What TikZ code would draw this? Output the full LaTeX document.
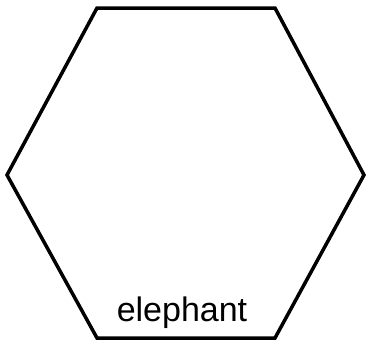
\documentclass[tikz,border=0pt]{standalone}
\usepackage{fontspec}
\setmainfont{Liberation Sans}
\begin{document}
\begin{tikzpicture}[x=1pt,y=-1pt,
  hexline/.style={draw=black,line width=3.5pt,line join=miter},
  lbl/.style={inner sep=0pt,font=\fontsize{34}{37}\selectfont,anchor=base}]
\useasboundingbox (0,0) rectangle (368,343);
\coordinate (v1) at (97,8);
\coordinate (v2) at (275,8);
\coordinate (v3) at (364,175);
\coordinate (v4) at (275,338);
\coordinate (v5) at (97,338);
\coordinate (v6) at (7,175);
\draw[hexline] (v1) -- (v2) -- (v3) -- (v4) -- (v5) -- (v6) -- cycle;
\node[lbl] (t) at (182,321) {elephant};
\end{tikzpicture}
\end{document}
